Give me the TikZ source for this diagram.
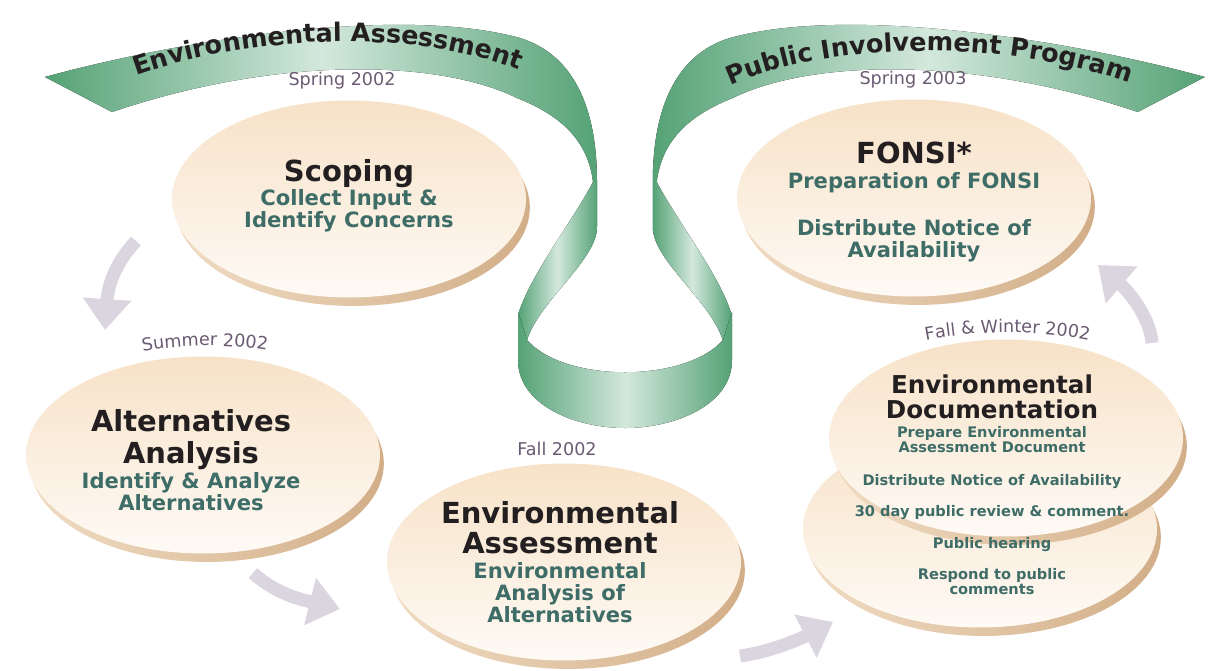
\documentclass[tikz,border=0pt]{standalone}
\usepackage{fontspec}
\setmainfont{DejaVu Sans}
\usetikzlibrary{arrows.meta,shapes.geometric,shadows,decorations.text}

\definecolor{ribbondark}{HTML}{55A276}
\definecolor{ribbonlight}{HTML}{D3E8DC}
\definecolor{disktop}{HTML}{F7E2C8}
\definecolor{diskbottom}{HTML}{FEFAF5}
\definecolor{edgelight}{HTML}{F0DCC3}
\definecolor{edgedark}{HTML}{D2AE88}
\definecolor{arrowgrey}{HTML}{DBD5E0}
\definecolor{ink}{HTML}{231F20}
\definecolor{taskteal}{HTML}{3E6C67}
\definecolor{dateplum}{HTML}{6A5A72}

\newcommand\phasefont{\fontsize{16.5}{18}\selectfont\bfseries}
\newcommand\taskfont{\fontsize{12}{12.5}\selectfont\bfseries}
\newcommand\docfont{\fontsize{14}{15}\selectfont\bfseries}
\newcommand\docnotefont{\fontsize{8.3}{8.5}\selectfont\bfseries}
\newcommand\datefont{\fontsize{10}{12}\selectfont}
\newcommand\bannerfont{\fontsize{14.5}{16}\selectfont\bfseries}
\newcommand\phasetitle[1]{{\phasefont\color{ink}#1}}
\newcommand\doctitle[1]{{\docfont\color{ink}#1}}

% left half of the ribbon: banner arch and its twisted strand
\newcommand\ribbonhalf{%
  \fill[ribbon] (45,77) .. controls (180,40) and (400,5) .. (520,38)
    .. controls (575,55) and (597,110) .. (597,182) -- (593,182)
    .. controls (588,140) and (560,115) .. (517,98)
    .. controls (440,60) and (280,55) .. (112,112) -- cycle;
  \fill[ribbon] (593,182) .. controls (572,222) and (530,275) .. (518,315)
    -- (518,340) -- (527,340) .. controls (540,300) and (597,260) .. (597,227)
    -- (597,182) -- cycle;
}

\tikzset{
  ribbon/.style={left color=ribbondark, right color=ribbondark, middle color=ribbonlight},
  disk/.style={ellipse, minimum width=7.08cm, minimum height=3.94cm, inner sep=0pt,
    top color=disktop, bottom color=diskbottom,
    general shadow={shadow xshift=2.2pt, shadow yshift=-4.8pt, left color=edgelight, right color=edgedark}},
  phase/.style={align=center, text=taskteal, font=\taskfont},
  docphase/.style={align=center, text=taskteal, font=\docnotefont},
  datelabel/.style={text=dateplum, font=\datefont, inner sep=0pt},
  flow/.style={draw=arrowgrey, line width=7.4pt, -{Triangle[width=26.6pt,length=17.6pt]}},
  banner/.style={decorate, decoration={text along path, text align=center, text color=ink}}
}

\begin{document}
\begin{tikzpicture}[x=0.02cm,y=-0.02cm]
\fill[white] (0,0) rectangle (1209,670);
\useasboundingbox (0,0) rectangle (1209,670);

% ribbon
\ribbonhalf
\begin{scope}[xshift=25cm, xscale=-1]
  \ribbonhalf
\end{scope}
\fill[ribbon] (518,312) -- (518,360) .. controls (518,405) and (575,428) .. (625,428)
  .. controls (675,428) and (732,405) .. (732,360) -- (732,312) -- (723,340)
  .. controls (685,383) and (565,383) .. (527,340) -- cycle;

\path[banner, decoration={text={|\bannerfont|Environmental Assessment}}]
  (125,80) .. controls (240,35) and (420,25) .. (530,75);
\path[banner, decoration={text={|\bannerfont|Public Involvement Program}}]
  (718,92) .. controls (820,38) and (1020,38) .. (1142,88);

% disks
\node[disk] (scoping) at (349,199) {};
\node[disk] (fonsi) at (914,198) {};
\node[disk] (alternatives) at (203,455) {};
\node[disk] (assessment) at (564,562) {};
\node[disk] (docback) at (980,529) {};
\node[disk] (docfront) at (1006,438) {};

% texts on the disks
\node[phase] (scopingtext) at (349,196) {\phasetitle{Scoping}\\Collect Input \&\\Identify Concerns};
\node[phase] (fonsitext) at (914,202) {\phasetitle{FONSI*}\\[1.7pt]Preparation of FONSI\\[14pt]Distribute Notice of\\Availability};
\node[phase] (alternativestext) at (191,460) {\phasetitle{Alternatives}\\[4.5pt]\phasetitle{Analysis}\\[0.7pt]Identify \& Analyze\\Alternatives};
\node[phase] (assessmenttext) at (560,562) {\phasetitle{Environmental}\\[5pt]\phasetitle{Assessment}\\[1.7pt]Environmental\\Analysis of\\Alternatives};
\node[docphase] (doctext) at (992,485) {\doctitle{Environmental}\\[2pt]\doctitle{Documentation}\\[2.3pt]Prepare Environmental\\Assessment Document\\[10.2pt]Distribute Notice of Availability\\[9.6pt]30 day public review \& comment.\\[9.6pt]Public hearing\\[9.1pt]Respond to public\\comments};

% dates
\node[datelabel] (springA) at (342,81) {Spring 2002};
\node[datelabel] (fallA) at (557,449) {Fall 2002};
\node[datelabel] (springB) at (913,80) {Spring 2003};
\path[decorate, decoration={text along path, text align=center, text color=dateplum, text={|\datefont|Summer 2002}}]
  (140,352) .. controls (180,344) and (230,344) .. (270,351);
\path[decorate, decoration={text along path, text align=center, text color=dateplum, text={|\datefont|Fall {\&} Winter 2002}}]
  (922,341) .. controls (975,330) and (1040,330) .. (1093,341);

% arrows between the phases
\coordinate (scopingout) at (136,241);
\coordinate (alternativesin) at (105,330);
\coordinate (alternativesout) at (253,573);
\coordinate (assessmentin) at (340,609);
\coordinate (assessmentout) at (740,656);
\coordinate (docin) at (833,622);
\coordinate (docout) at (1152,343);
\coordinate (fonsiin) at (1098,265);
\draw[flow] (scopingout) .. controls (116,262) and (108,285) .. (alternativesin);
\draw[flow] (alternativesout) .. controls (278,596) and (308,601) .. (assessmentin);
\draw[flow] (assessmentout) .. controls (770,652) and (800,639) .. (docin);
\draw[flow] (docout) .. controls (1150,315) and (1125,288) .. (fonsiin);
\end{tikzpicture}
\end{document}
